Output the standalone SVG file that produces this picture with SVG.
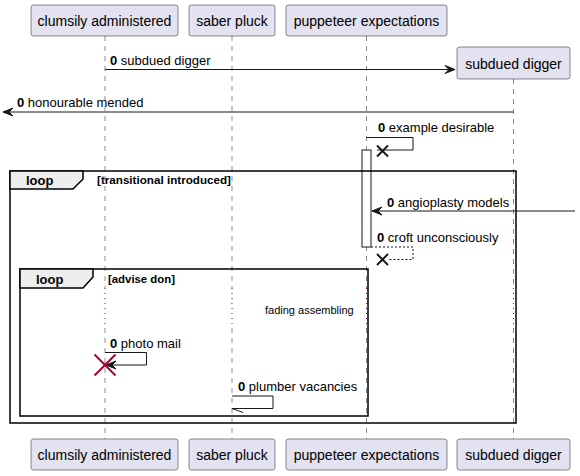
<svg xmlns="http://www.w3.org/2000/svg" width="580" height="476" viewBox="0 0 580 476">
<style>
.pbox{fill:#E2E2F0;stroke:#181818;stroke-width:0.5;}
.ptxt{font-family:"Liberation Sans",Arial,sans-serif;font-size:14px;fill:#000;text-anchor:middle;}
.life{stroke:#181818;stroke-width:0.5;stroke-dasharray:5,5;fill:none;}
.delay{stroke:#A80036;stroke-width:1;stroke-dasharray:1,4;fill:none;}
.msg{stroke:#181818;stroke-width:1;fill:none;}
.dmsg{stroke:#181818;stroke-width:1;fill:none;stroke-dasharray:2,2;}
.mtxt{font-family:"Liberation Sans",Arial,sans-serif;font-size:13px;fill:#000;}
.b{font-weight:bold;}
.head{fill:#181818;stroke:#181818;stroke-width:1;}
.frame{fill:none;stroke:#000;stroke-width:1.5;}
.tab{fill:#EEEEEE;stroke:#000;stroke-width:1.5;}
.ltxt{font-family:"Liberation Sans",Arial,sans-serif;font-size:13px;font-weight:bold;fill:#000;}
.gtxt{font-family:"Liberation Sans",Arial,sans-serif;font-size:11px;font-weight:bold;fill:#000;}
.dtxt{font-family:"Liberation Sans",Arial,sans-serif;font-size:11px;fill:#000;}
.x{stroke:#181818;stroke-width:2;}
.xr{stroke:#A80036;stroke-width:2;}
</style>
<g id="lifelines">
<line class="life" x1="105" y1="36" x2="105" y2="288"/>
<line class="delay" x1="105" y1="288" x2="105" y2="328"/>
<line class="life" x1="105" y1="328" x2="105" y2="439"/>
<line class="life" x1="232" y1="36" x2="232" y2="288"/>
<line class="delay" x1="232" y1="288" x2="232" y2="328"/>
<line class="life" x1="232" y1="328" x2="232" y2="439"/>
<line class="life" x1="366.5" y1="36" x2="366.5" y2="288"/>
<line class="delay" x1="366.5" y1="288" x2="366.5" y2="328"/>
<line class="life" x1="366.5" y1="328" x2="366.5" y2="439"/>
<line class="life" x1="513.5" y1="79" x2="513.5" y2="288"/>
<line class="delay" x1="513.5" y1="288" x2="513.5" y2="328"/>
<line class="life" x1="513.5" y1="328" x2="513.5" y2="439"/>
</g>
<g id="p-clumsily">
<rect class="pbox" x="31" y="5" width="147" height="31" rx="2.5"/>
<text class="ptxt" x="104.5" y="26">clumsily administered</text>
<rect class="pbox" x="31" y="439" width="147" height="31" rx="2.5"/>
<text class="ptxt" x="104.5" y="460">clumsily administered</text>
</g>
<g id="p-saber">
<rect class="pbox" x="189" y="5" width="86" height="31" rx="2.5"/>
<text class="ptxt" x="232" y="26">saber pluck</text>
<rect class="pbox" x="189" y="439" width="86" height="31" rx="2.5"/>
<text class="ptxt" x="232" y="460">saber pluck</text>
</g>
<g id="p-puppeteer">
<rect class="pbox" x="286" y="5" width="161" height="31" rx="2.5"/>
<text class="ptxt" x="366.5" y="26">puppeteer expectations</text>
<rect class="pbox" x="286" y="439" width="161" height="31" rx="2.5"/>
<text class="ptxt" x="366.5" y="460">puppeteer expectations</text>
</g>
<g id="p-subdued">
<rect class="pbox" x="457" y="47" width="113" height="32" rx="2.5"/>
<text class="ptxt" x="513.5" y="68.5">subdued digger</text>
<rect class="pbox" x="457" y="439" width="113" height="31" rx="2.5"/>
<text class="ptxt" x="513.5" y="460">subdued digger</text>
</g>
<g id="activation">
<rect x="362" y="150" width="9" height="97" fill="#FFFFFF" stroke="#181818" stroke-width="1"/>
</g>
<g id="loop-outer">
<rect class="frame" x="10" y="171" width="506" height="252"/>
<path class="tab" d="M10,171 L83,171 L83,179 L73,189 L10,189 Z"/>
<text class="ltxt" x="26" y="185">loop</text>
<text class="gtxt" x="97" y="184" textLength="134" lengthAdjust="spacingAndGlyphs">[transitional introduced]</text>
</g>
<g id="loop-inner">
<rect class="frame" x="20" y="269" width="348" height="147"/>
<path class="tab" d="M20,269 L93,269 L93,277 L83,288 L20,288 Z"/>
<text class="ltxt" x="36" y="284">loop</text>
<text class="gtxt" x="108" y="283" textLength="67" lengthAdjust="spacingAndGlyphs">[advise don]</text>
</g>
<g id="delay">
<text class="dtxt" x="265" y="314">fading assembling</text>
</g>
<g id="connectors">
<line class="msg" x1="105" y1="69.5" x2="455" y2="69.5"/>
<polygon class="head" points="445,65.5 455,69.5 445,73.5 449,69.5"/>
<text class="mtxt" x="110" y="65"><tspan class="b">0</tspan> subdued digger</text>

<line class="msg" x1="513.5" y1="112" x2="3" y2="112"/>
<polygon class="head" points="13,108 3,112 13,116 9,112"/>
<text class="mtxt" x="17" y="107"><tspan class="b">0</tspan> honourable mended</text>

<polyline class="msg" points="366.5,137.5 413,137.5 413,150 377,150"/>
<line class="x" x1="377" y1="145.5" x2="388" y2="156.5"/>
<line class="x" x1="388" y1="145.5" x2="377" y2="156.5"/>
<text class="mtxt" x="378" y="132"><tspan class="b">0</tspan> example desirable</text>

<line class="msg" x1="575" y1="211" x2="372" y2="211"/>
<polygon class="head" points="382,207 372,211 382,215 378,211"/>
<text class="mtxt" x="387" y="207"><tspan class="b">0</tspan> angioplasty models</text>

<polyline class="dmsg" points="371,247 413,247 413,259.5 388,259.5"/>
<line class="x" x1="377" y1="254" x2="388" y2="265"/>
<line class="x" x1="388" y1="254" x2="377" y2="265"/>
<text class="mtxt" x="377" y="242"><tspan class="b">0</tspan> croft unconsciously</text>

<polyline class="msg" points="105,352.5 146.5,352.5 146.5,365 106,365"/>
<polygon class="head" points="116,361 106,365 116,369 112,365"/>
<line class="xr" x1="94.5" y1="354.5" x2="115.5" y2="375.5"/>
<line class="xr" x1="115.5" y1="354.5" x2="94.5" y2="375.5"/>
<text class="mtxt" x="110" y="348"><tspan class="b">0</tspan> photo mail</text>

<polyline class="msg" points="232,396 273,396 273,408.5 232,408.5"/>
<line class="msg" x1="232" y1="408.5" x2="243" y2="412.5"/>
<text class="mtxt" x="238" y="391"><tspan class="b">0</tspan> plumber vacancies</text>
</g>
</svg>
